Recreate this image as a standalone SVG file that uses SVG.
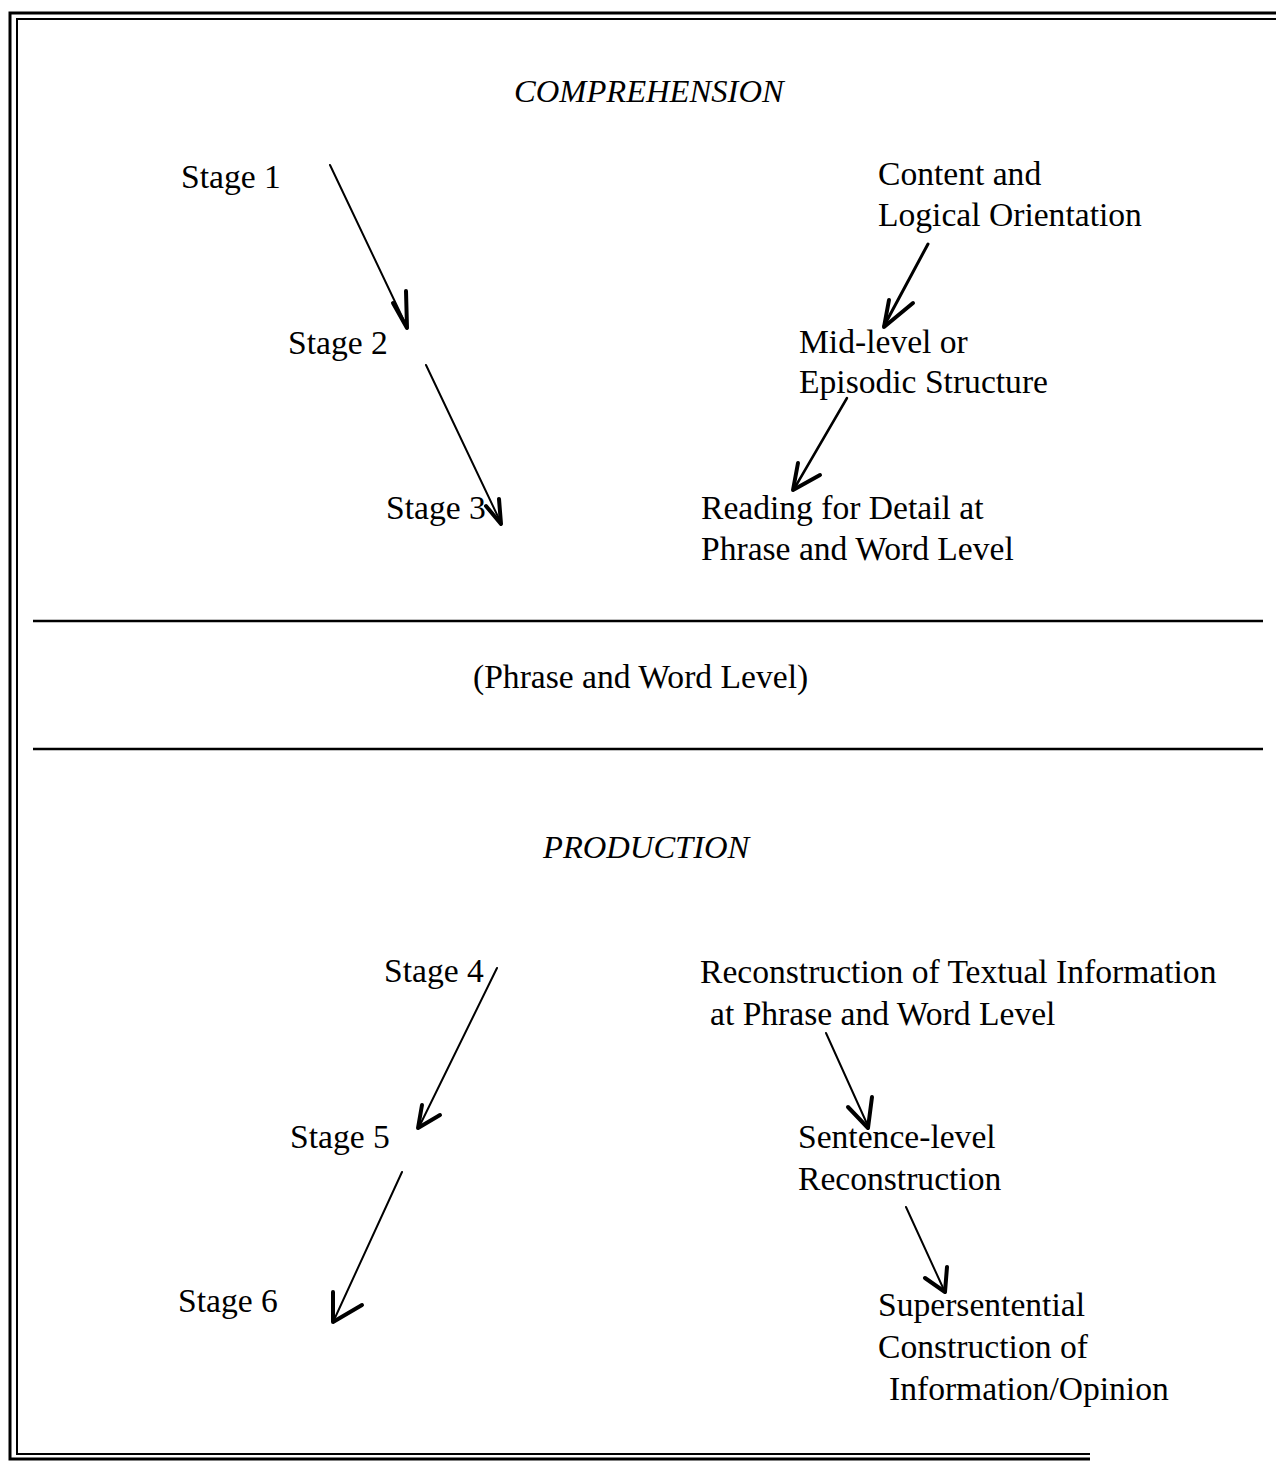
<svg xmlns="http://www.w3.org/2000/svg" width="1276" height="1461" viewBox="0 0 1276 1461">
<style>
text{font-family:"Liberation Serif","Times New Roman",serif;font-size:33.6px;fill:#000}
.it{font-style:italic;font-size:32.6px}
.ln{stroke:#000;stroke-width:2;fill:none;stroke-linecap:round}
.hd{stroke:#000;stroke-width:4;fill:none;stroke-linecap:round;stroke-linejoin:round}
.fr{stroke:#000;fill:none}
</style>
<rect width="1276" height="1461" fill="#fff"/>
<g id="frame">
<path class="fr" stroke-width="3" d="M1276,13 H10 V1459 H1090"/>
<path class="fr" stroke-width="2" d="M1276,19 H17 V1454 H1090"/>
<line class="fr" stroke-width="2.5" x1="33" y1="621" x2="1263" y2="621"/>
<line class="fr" stroke-width="2.5" x1="33" y1="749" x2="1263" y2="749"/>
</g>
<g id="titles">
<text id="comprehension" class="it" x="514" y="102">COMPREHENSION</text>
<text id="mid-label" x="473" y="688">(Phrase and Word Level)</text>
<text id="production" class="it" x="543" y="858">PRODUCTION</text>
</g>
<g id="stage1"><text x="181" y="188">Stage 1</text></g>
<g id="stage2"><text x="288" y="354">Stage 2</text></g>
<g id="stage3"><text x="386" y="519">Stage 3</text></g>
<g id="content"><text x="878" y="185">Content and</text><text x="878" y="226">Logical Orientation</text></g>
<g id="midlevel"><text x="799" y="353">Mid-level or</text><text x="799" y="393">Episodic Structure</text></g>
<g id="reading"><text x="701" y="519">Reading for Detail at</text><text x="701" y="560">Phrase and Word Level</text></g>
<g id="stage4"><text x="384" y="982">Stage 4</text></g>
<g id="stage5"><text x="290" y="1148">Stage 5</text></g>
<g id="stage6"><text x="178" y="1312">Stage 6</text></g>
<g id="reconstruction"><text x="700" y="983">Reconstruction of Textual Information</text><text x="710" y="1025">at Phrase and Word Level</text></g>
<g id="sentence"><text x="798" y="1148">Sentence-level</text><text x="798" y="1190">Reconstruction</text></g>
<g id="supersentential"><text x="878" y="1316">Supersentential</text><text x="878" y="1358">Construction of</text><text x="889" y="1400">Information/Opinion</text></g>
<g id="connectors">
<line class="ln" x1="330" y1="165" x2="407" y2="327"/>
<path class="hd" d="M393,303 L407,328 L406,291"/>
<line class="ln" x1="426" y1="365" x2="501" y2="523"/>
<path class="hd" d="M486,506 L501,524 L499,499"/>
<line class="ln" x1="928" y1="244" x2="884" y2="326" style="stroke-width:3"/>
<path class="hd" d="M889,300 L884,327 L913,303"/>
<line class="ln" x1="847" y1="398" x2="794" y2="489" style="stroke-width:2.5"/>
<path class="hd" d="M798,463 L793,490 L820,475"/>
<line class="ln" x1="497" y1="968" x2="419" y2="1127"/>
<path class="hd" d="M422,1105 L418,1128 L440,1115"/>
<line class="ln" x1="402" y1="1172" x2="334" y2="1320"/>
<path class="hd" d="M333,1292 L333,1322 L362,1305"/>
<line class="ln" x1="826" y1="1033" x2="868" y2="1126"/>
<path class="hd" d="M848,1107 L868,1128 L872,1097"/>
<line class="ln" x1="906" y1="1207" x2="944" y2="1290"/>
<path class="hd" d="M925,1278 L945,1292 L947,1267"/>
</g>
</svg>
